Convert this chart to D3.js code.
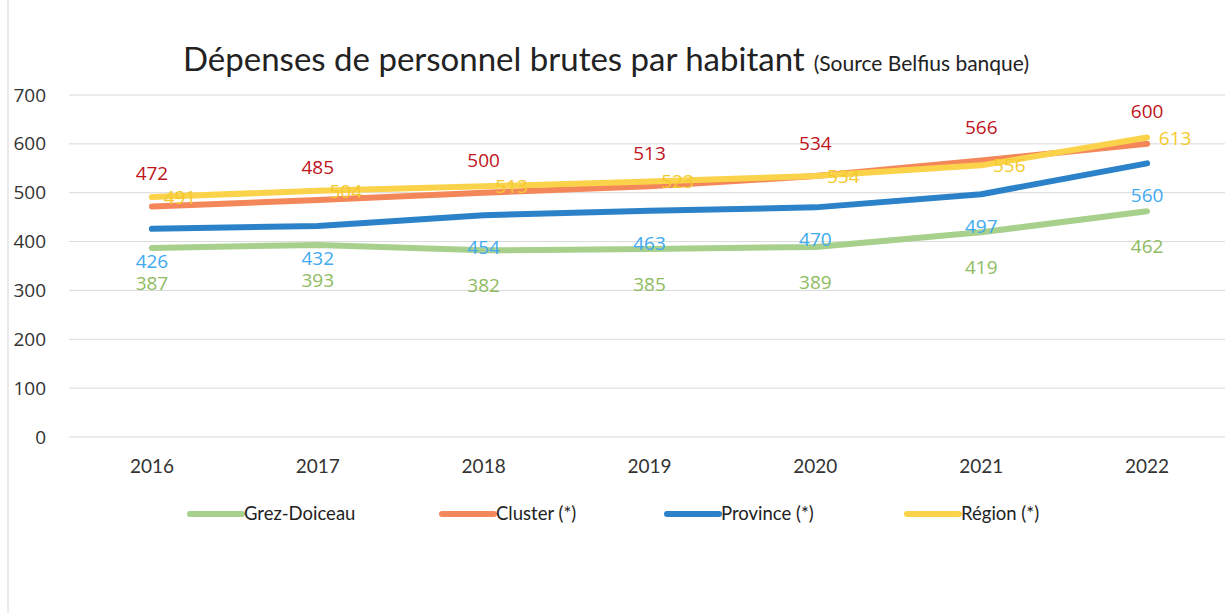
<!DOCTYPE html>
<html>
<head>
<meta charset="utf-8">
<script src="https://cdn.jsdelivr.net/npm/d3@7"></script>
<style>
	body { margin: 0; background: #fff; }
	svg { display: block; }
</style>
</head>
<body>
<div id="chart"></div>
<script>
// Data
const years = ["2016", "2017", "2018", "2019", "2020", "2021", "2022"];
const grez = [387, 393, 382, 385, 389, 419, 462];
const cluster = [472, 485, 500, 513, 534, 566, 600];
const province = [426, 432, 454, 463, 470, 497, 560];
const region = [491, 504, 513, 523, 534, 556, 613];
const yTicks = [0, 100, 200, 300, 400, 500, 600, 700];

const seriesNames = ["Grez-Doiceau", "Cluster (*)", "Province (*)", "Région (*)"];

function drawChart() {
	const width = 1225, height = 613;
	const margin = { left: 69, right: -5, top: 95, bottom: 176 };

	const series = [
		{ name: seriesNames[0], values: grez, color: "#a8d08d", label: "#8fbb62", pos: "below", dy: 42 },
		{ name: seriesNames[1], values: cluster, color: "#f4875a", label: "#c0141b", pos: "above", dy: -26 },
		{ name: seriesNames[2], values: province, color: "#2c82c9", label: "#41aaf0", pos: "below", dy: 39 },
		{ name: seriesNames[3], values: region, color: "#fbd34a", label: "#f4c92c", pos: "right", dy: 7 }
	];

	let svg = d3.select("#chart").append("svg")
		.attr("width", width)
		.attr("height", height)

	// page edge from the scan
	svg.append("line")
		.attr("x1", 8).attr("x2", 8).attr("y1", 0).attr("y2", height)
		.attr("stroke", "#d6d6d6").attr("stroke-width", 1)

	let x = d3.scaleBand()
		.domain(years)
		.range([margin.left, width - margin.right])

	let y = d3.scaleLinear()
		.domain([0, 700])
		.range([height - margin.bottom, margin.top])

	// gridlines
	svg.append("g")
		.selectAll("line")
		.data(yTicks)
		.enter().append("line")
		.attr("x1", margin.left)
		.attr("x2", width)
		.attr("y1", d => y(d))
		.attr("y2", d => y(d))
		.attr("stroke", "#d9d9d9")
		.attr("stroke-width", 1)

	// y axis labels
	let yAxis = svg.append("g")
		.attr("transform", "translate(46,0)")
		.call(d3.axisLeft(y).tickValues(yTicks).tickSize(0).tickPadding(0))
	yAxis.select(".domain").remove()
	yAxis.selectAll("text")
		.attr("font-family", "Open Sans, sans-serif")
		.attr("font-size", 19)
		.attr("fill", "#333")

	// x axis labels
	let xAxis = svg.append("g")
		.attr("transform", "translate(0,459)")
		.call(d3.axisBottom(x).tickSize(0).tickPadding(0))
	xAxis.select(".domain").remove()
	xAxis.selectAll("text")
		.attr("font-family", "Lato, sans-serif")
		.attr("font-size", 19)
		.attr("fill", "#333")

	let cx = d => x(d) + x.bandwidth() / 2;

	let line = d3.line()
		.x((d, i) => cx(years[i]))
		.y(d => y(d))

	svg.append("g")
		.selectAll("path")
		.data(series)
		.enter().append("path")
		.attr("d", d => line(d.values))
		.attr("fill", "none")
		.attr("stroke", d => d.color)
		.attr("stroke-width", 6)
		.attr("stroke-linecap", "round")
		.attr("stroke-linejoin", "round")

	// data labels
	series.forEach(s => {
		svg.append("g")
			.selectAll("text")
			.data(s.values)
			.enter().append("text")
			.attr("x", (d, i) => cx(years[i]) + (s.pos == "right" ? 28 : 0))
			.attr("y", d => y(d) + s.dy)
			.attr("text-anchor", "middle")
			.attr("font-family", "Open Sans, sans-serif")
			.attr("font-size", 19)
			.attr("fill", s.label)
			.text(d => d)
	})

	// title
	let title = svg.append("text")
		.attr("x", 183)
		.attr("y", 71)
		.attr("font-family", "Lato, sans-serif")
		.attr("fill", "#222")
	title.append("tspan")
		.attr("font-size", 33)
		.text("Dépenses de personnel brutes par habitant")
	title.append("tspan")
		.attr("font-size", 21)
		.attr("dx", 9)
		.text("(Source Belfius banque)")

	// legend
	const legendX = [190, 442, 667, 907];
	let legend = svg.append("g")
		.selectAll("g")
		.data(series)
		.enter().append("g")
		.attr("transform", (d, i) => `translate(${legendX[i]},514)`)
	legend.append("line")
		.attr("x1", 0).attr("x2", 52)
		.attr("stroke", d => d.color)
		.attr("stroke-width", 6)
		.attr("stroke-linecap", "round")
	legend.append("text")
		.attr("x", 54)
		.attr("y", 6)
		.attr("font-family", "Lato, sans-serif")
		.attr("font-size", 18.5)
		.attr("fill", "#222")
		.text(d => d.name)
}

drawChart();
</script>
</body>
</html>
